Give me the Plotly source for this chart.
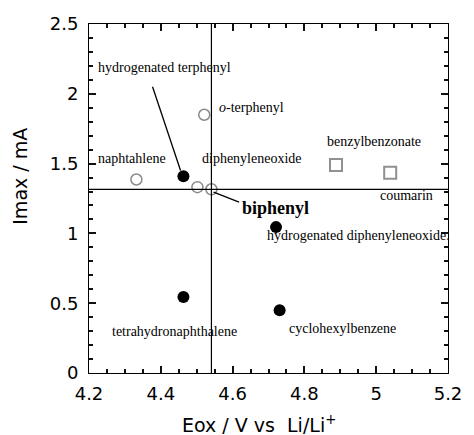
import plotly.graph_objects as go

# ---- data ----
open_names = ["naphtahlene", "o-terphenyl", "diphenyleneoxide", "biphenyl"]
open_eox = [4.332, 4.521, 4.502, 4.541]
open_imax = [1.386, 1.85, 1.331, 1.316]

filled_names = ["hydrogenated terphenyl", "hydrogenated diphenyleneoxide",
                "cyclohexylbenzene", "tetrahydronaphthalene"]
filled_eox = [4.463, 4.721, 4.731, 4.463]
filled_imax = [1.41, 1.045, 0.45, 0.545]

square_names = ["benzylbenzonate", "coumarin"]
square_eox = [4.888, 5.039]
square_imax = [1.49, 1.434]

x_range = [4.2, 5.2]
x_minor = 0.05
y_range = [0, 2.5]
y_minor = 0.1

ref_eox = open_eox[3]   # biphenyl reference
ref_imax = open_imax[3]

# ---- label layout (positions only) ----
labels = [
    ("hydrogenated terphenyl", 4.222, 2.186, False),
    ("<i>o</i>-terphenyl", 4.559, 1.90, False),
    ("naphtahlene", 4.222, 1.536, False),
    ("diphenyleneoxide", 4.512, 1.536, False),
    ("benzylbenzonate", 4.859, 1.659, False),
    ("coumarin", 5.007, 1.271, False),
    ("<b>biphenyl</b>", 4.624, 1.18, True),
    ("hydrogenated diphenyleneoxide.", 4.694, 0.986, False),
    ("cyclohexylbenzene", 4.755, 0.319, False),
    ("tetrahydronaphthalene", 4.262, 0.300, False),
]
leaders = [((4.377, 2.05), (4.455, 1.45)), ((4.547, 1.295), (4.618, 1.224))]

fig = go.Figure()
fig.add_trace(go.Scatter(x=open_eox, y=open_imax, mode="markers", text=open_names,
                         marker=dict(symbol="circle-open", size=11, color="#8a8a8a",
                                     line=dict(width=1.5, color="#8a8a8a")),
                         showlegend=False))
fig.add_trace(go.Scatter(x=filled_eox, y=filled_imax, mode="markers", text=filled_names,
                         marker=dict(symbol="circle", size=12, color="black"),
                         showlegend=False))
fig.add_trace(go.Scatter(x=square_eox, y=square_imax, mode="markers", text=square_names,
                         marker=dict(symbol="square-open", size=12, color="#909090",
                                     line=dict(width=2, color="#909090")),
                         showlegend=False))

# reference lines through biphenyl
fig.add_shape(type="line", xref="x", yref="paper", x0=ref_eox, x1=ref_eox, y0=0, y1=1,
              line=dict(color="black", width=1.2))
fig.add_shape(type="line", xref="paper", yref="y", x0=0, x1=1, y0=ref_imax, y1=ref_imax,
              line=dict(color="black", width=1.2))
for (a, b) in leaders:
    fig.add_shape(type="line", xref="x", yref="y", x0=a[0], y0=a[1], x1=b[0], y1=b[1],
                  line=dict(color="black", width=1.3))

for text, x, y, big in labels:
    fig.add_annotation(x=x, y=y, xref="x", yref="y", text=text, showarrow=False,
                       xanchor="left", yanchor="middle", borderpad=0,
                       font=dict(family="Liberation Serif", size=18 if big else 14,
                                 color="black"))

# axis titles
fig.add_annotation(xref="paper", yref="paper", x=(263 - 89) / 368, y=(373 - 424) / 349,
                   text="Eox / V vs  Li/Li<sup>+</sup>", showarrow=False,
                   xanchor="center", yanchor="middle",
                   font=dict(family="DejaVu Sans", size=19, color="black"))
fig.add_annotation(xref="paper", yref="paper", x=(18 - 89) / 368, y=(373 - 176) / 349,
                   text="Imax / mA", showarrow=False, textangle=-90,
                   xanchor="center", yanchor="middle",
                   font=dict(family="DejaVu Sans", size=19, color="black"))

tick_font = dict(family="DejaVu Sans", size=18, color="black")
fig.update_xaxes(range=x_range, ticks="inside", ticklen=7, tickcolor="#111", tickwidth=2,
                 showline=True, linecolor="black", mirror="allticks",
                 gridcolor="white", tickfont=tick_font, ticklabelstandoff=4,
                 minor=dict(ticks="inside", ticklen=4, tickcolor="#111", dtick=x_minor))
fig.update_yaxes(range=y_range, ticks="inside", ticklen=7, tickcolor="#111", tickwidth=2,
                 showline=True, linecolor="black", mirror="allticks",
                 gridcolor="white", tickfont=tick_font, ticklabelstandoff=6,
                 minor=dict(ticks="inside", ticklen=4, tickcolor="#111", dtick=y_minor))
fig.update_layout(width=474, height=435, margin=dict(l=89, r=17, t=24, b=62),
                  plot_bgcolor="white", paper_bgcolor="white")
fig.write_html("out.html")
